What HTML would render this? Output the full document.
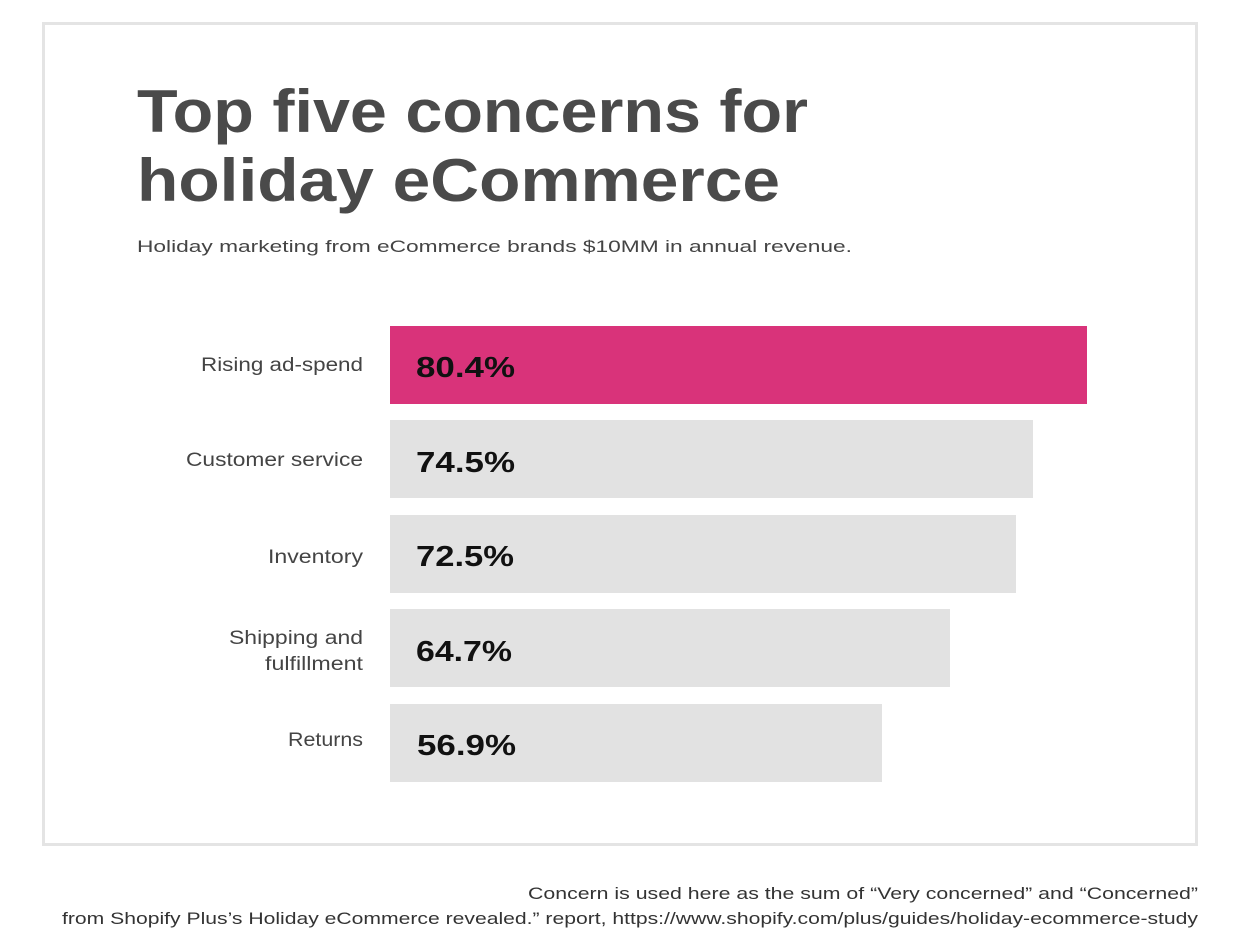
<!DOCTYPE html>
<html><head><meta charset="utf-8"><style>
html,body{margin:0;padding:0;background:#fff;}
svg{display:block;font-family:"Liberation Sans",sans-serif;}
</style></head><body>
<svg width="1236" height="950" viewBox="0 0 1236 950">
<rect x="0" y="0" width="1236" height="950" fill="#fff"/>
<rect x="43.5" y="23.5" width="1153" height="821" fill="#fff" stroke="#e4e4e4" stroke-width="3"/>
<g fill="#4a4a4a" font-weight="bold" font-size="60">
<text x="137" y="132" textLength="671" lengthAdjust="spacingAndGlyphs">Top five concerns for</text>
<text x="137" y="201" textLength="643" lengthAdjust="spacingAndGlyphs">holiday eCommerce</text>
</g>
<text x="137" y="252" font-size="17" fill="#444" textLength="715" lengthAdjust="spacingAndGlyphs">Holiday marketing from eCommerce brands $10MM in annual revenue.</text>
<rect x="390" y="326" width="697" height="78" fill="#d9337a"/>
<rect x="390" y="420" width="643" height="78" fill="#e2e2e2"/>
<rect x="390" y="515" width="626" height="78" fill="#e2e2e2"/>
<rect x="390" y="609" width="560" height="78" fill="#e2e2e2"/>
<rect x="390" y="704" width="492" height="78" fill="#e2e2e2"/>
<g font-size="19" fill="#444" lengthAdjust="spacingAndGlyphs">
<text x="201" y="371" textLength="162" lengthAdjust="spacingAndGlyphs">Rising ad-spend</text>
<text x="186" y="466" textLength="177" lengthAdjust="spacingAndGlyphs">Customer service</text>
<text x="268" y="563" textLength="95" lengthAdjust="spacingAndGlyphs">Inventory</text>
<text x="229" y="644" textLength="134" lengthAdjust="spacingAndGlyphs">Shipping and</text>
<text x="265" y="670" textLength="98" lengthAdjust="spacingAndGlyphs">fulfillment</text>
<text x="288" y="746" textLength="75" lengthAdjust="spacingAndGlyphs">Returns</text>
</g>
<g font-size="29" font-weight="bold" fill="#111">
<text x="416" y="377" textLength="99" lengthAdjust="spacingAndGlyphs">80.4%</text>
<text x="416" y="472" textLength="99" lengthAdjust="spacingAndGlyphs">74.5%</text>
<text x="416" y="566" textLength="98" lengthAdjust="spacingAndGlyphs">72.5%</text>
<text x="416" y="661" textLength="96" lengthAdjust="spacingAndGlyphs">64.7%</text>
<text x="417" y="755" textLength="99" lengthAdjust="spacingAndGlyphs">56.9%</text>
</g>
<g font-size="16.5" fill="#333">
<text x="528" y="899" textLength="670" lengthAdjust="spacingAndGlyphs">Concern is used here as the sum of “Very concerned” and “Concerned”</text>
<text x="62" y="924" textLength="1136" lengthAdjust="spacingAndGlyphs">from Shopify Plus’s Holiday eCommerce revealed.” report, https://www.shopify.com/plus/guides/holiday-ecommerce-study</text>
</g>
</svg>
</body></html>
